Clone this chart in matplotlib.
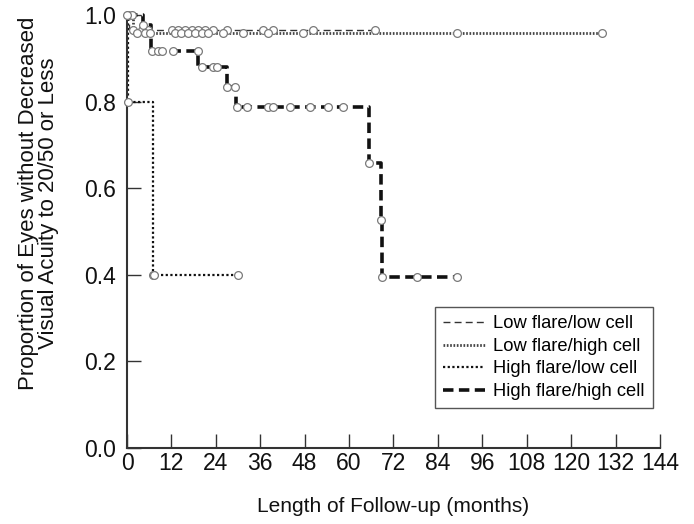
import matplotlib
matplotlib.use("Agg")
import matplotlib.pyplot as plt
from matplotlib.lines import Line2D
import numpy as np

plt.rcParams['font.family'] = ['Liberation Sans', 'DejaVu Sans']

# ---- data ----
labels = ["Low flare/low cell", "Low flare/high cell",
          "High flare/low cell", "High flare/high cell"]

# Low flare / low cell
llc_step_t = [0, 0.5]
llc_step_s = [1.0, 0.965]
llc_end = 67.0
llc_cens = [0.2, 1.6, 4.0, 5.7, 12.2, 13.8, 15.7, 17.6, 19.2, 21.1, 23.2,
            27.0, 36.8, 39.5, 50.3, 67.0]

# Low flare / high cell
lhc_step_t = [0, 1.5]
lhc_step_s = [1.0, 0.96]
lhc_end = 128.4
lhc_cens = [1.4, 2.7, 4.9, 6.2, 13.0, 14.6, 16.5, 18.4, 20.3, 21.9, 25.9,
            31.4, 38.1, 47.6, 89.2, 128.4]

# High flare / low cell
hlc_step_t = [0, 0.3, 7.0]
hlc_step_s = [1.0, 0.8, 0.4]
hlc_end = 30.0
hlc_cens = [0.1, 0.35, 7.05, 7.4, 30.0]

# High flare / high cell
hhc_step_t = [0, 4.2, 6.5, 19.3, 27.0, 29.4, 65.4, 68.7, 68.8]
hhc_step_s = [1.0, 0.977, 0.918, 0.88, 0.834, 0.788, 0.658, 0.527, 0.396]
hhc_end = 89.2
hhc_cens = [4.3, 6.8, 8.4, 9.5, 12.4, 19.2, 20.3, 23.2, 24.3, 27.1, 29.2,
            29.7, 32.4, 38.1, 39.5, 44.0, 49.5, 54.3, 58.4, 65.5, 68.75,
            68.9, 78.4, 89.2]

x_ticks = [0, 12, 24, 36, 48, 60, 72, 84, 96, 108, 120, 132, 144]
y_ticks = [0.0, 0.2, 0.4, 0.6, 0.8, 1.0]

series = [
    (llc_step_t, llc_step_s, llc_end, llc_cens),
    (lhc_step_t, lhc_step_s, lhc_end, lhc_cens),
    (hlc_step_t, hlc_step_s, hlc_end, hlc_cens),
    (hhc_step_t, hhc_step_s, hhc_end, hhc_cens),
]
styles = [
    dict(color='#333333', lw=1.0, ls=(0, (5, 3))),
    dict(color='#444444', lw=2.0, ls=(0, (0.6, 0.6))),
    dict(color='#111111', lw=1.6, ls=(0, (1, 1.1))),
    dict(color='#111111', lw=2.6, ls=(0, (2.9, 1.5))),
]

fig = plt.figure(figsize=(6.94, 5.24), dpi=100)
ax = fig.add_axes([0.183, 0.145, 0.768, 0.826])

for (st, ss, end, cens), sty in zip(series, styles):
    xs = list(st) + [end]
    ys = list(ss) + [ss[-1]]
    ax.step(xs, ys, where='post', color=sty['color'], lw=sty['lw'],
            linestyle=sty['ls'], clip_on=False, zorder=2)
    st_arr = np.array(st)
    cy = [ss[np.searchsorted(st_arr, c, side='right') - 1] for c in cens]
    ax.plot(cens, cy, linestyle='none', marker='o', markersize=5.6,
            markerfacecolor='white', markeredgecolor='#7a7a7a',
            markeredgewidth=0.9, clip_on=False, zorder=3)

ax.set_xlim(0, 144)
ax.set_ylim(0, 1.0)
ax.set_xticks(x_ticks)
ax.set_yticks(y_ticks)
ax.set_yticklabels([f"{v:.1f}" for v in y_ticks])
ax.tick_params(direction='in', length=10, width=1.0, color='#333333',
               labelsize=16.5, labelcolor='#111111')
ax.tick_params(axis='x', pad=3)
ax.tick_params(axis='y', pad=8)
for s in ['top', 'right']:
    ax.spines[s].set_visible(False)
for s in ['left', 'bottom']:
    ax.spines[s].set_linewidth(1.5)
    ax.spines[s].set_color('#333333')

ax.set_xlabel("Length of Follow-up (months)", fontsize=15, labelpad=16,
              color='#111111')
ax.set_ylabel("Proportion of Eyes without Decreased\nVisual Acuity to 20/50 or Less",
              fontsize=16, color='#111111', linespacing=0.95)
ax.yaxis.set_label_coords(-0.127, 0.565)

handles = [Line2D([0], [0], color=sty['color'], lw=sty['lw'], linestyle=sty['ls'])
           for sty in styles]
leg = ax.legend(handles, labels, loc='lower right', bbox_to_anchor=(0.987, 0.092),
                fontsize=13.2, frameon=True, fancybox=False, framealpha=1,
                edgecolor='#555555', handlelength=2.3, borderpad=0.45,
                labelspacing=0.3, handletextpad=0.45, borderaxespad=0)
leg.get_frame().set_linewidth(1.0)

fig.savefig("out.png", dpi=100)
